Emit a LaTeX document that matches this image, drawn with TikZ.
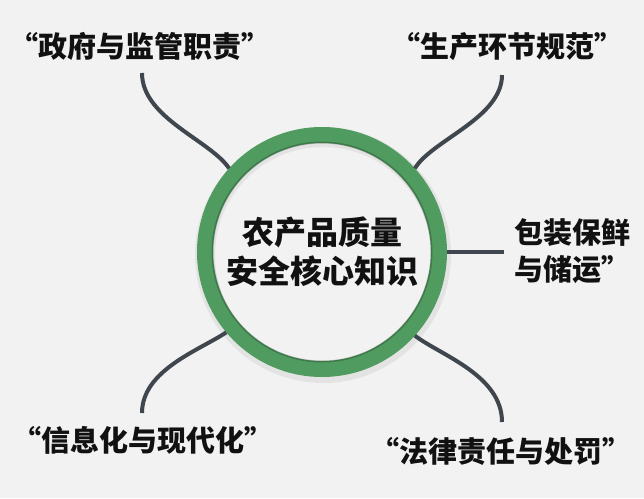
\documentclass[tikz,border=0pt]{standalone}
\usepackage{fontspec}
\newfontfamily\cjk{Noto Sans CJK SC}
\definecolor{bgc}{HTML}{F2F2F2}
\definecolor{ringgreen}{HTML}{509C60}
\definecolor{linkc}{HTML}{3F464D}
\definecolor{txtc}{HTML}{111111}
\tikzset{
  hubring/.style={circle, draw=ringgreen, line width=16pt, minimum size=234pt, inner sep=0pt,
    align=center, text=txtc, font=\cjk\bfseries\fontsize{32}{39}\selectfont},
  lbl/.style={text=txtc, inner sep=0pt, align=center, font=\cjk\bfseries\fontsize{29}{37}\selectfont},
  link/.style={draw=linkc, line width=4pt}
}
\begin{document}
\begin{tikzpicture}[x=1pt,y=-1pt]
\fill[bgc] (0,0) rectangle (644,498);
\useasboundingbox (0,0) rectangle (644,498);
% soft outer shadow (ring only)
\draw[black,opacity=0.06,line width=20pt] (323,255) circle[radius=118pt];
\node[hubring] (hub) at (322,252) {农产品质量\\安全核心知识};
% inner shadow on ring
\draw[black,opacity=0.22,line width=2pt] (322,252) circle[radius=109.5pt];
% labels
\node[lbl] (l1) at (140,46) {“政府与监管职责”};
\node[lbl] (l2) at (507,47) {“生产环节规范”};
\node[lbl,anchor=west,align=left] (l3) at (514,251) {包装保鲜\\与储运”};
\node[lbl] (l4) at (143,440) {“信息化与现代化”};
\node[lbl] (l5) at (501,451) {“法律责任与处罚”};
% connector free ends
\coordinate (e1) at (142,73);
\coordinate (e2) at (502,75);
\coordinate (e3) at (504,252);
\coordinate (e4) at (142,413);
\coordinate (e5) at (502,422);
% connectors
\draw[link] (hub.138) .. controls (210,140) and (142,118) .. (e1);
\draw[link] (hub.42) .. controls (432,140) and (502,118) .. (e2);
\draw[link] (hub.0) -- (e3);
\draw[link] (hub.220) .. controls (200,350) and (142,370) .. (e4);
\draw[link] (hub.318) .. controls (440,355) and (502,375) .. (e5);
\end{tikzpicture}
\end{document}
